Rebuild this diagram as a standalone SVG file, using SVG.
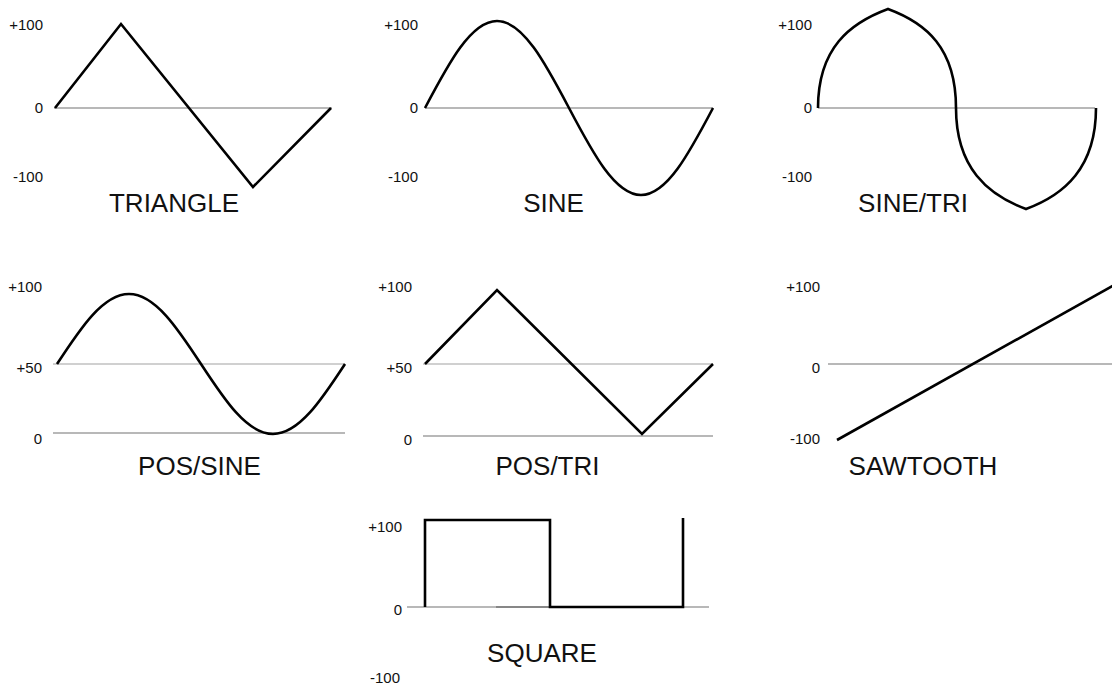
<svg xmlns="http://www.w3.org/2000/svg" width="1112" height="684" viewBox="0 0 1112 684">
<style>
.lbl{font-family:"Liberation Sans",Arial,sans-serif;font-size:15px;fill:#111;text-anchor:end}
.ttl{font-family:"Liberation Sans",Arial,sans-serif;font-size:26px;fill:#111;text-anchor:middle}
.ax{stroke:#a0a0a0;stroke-width:1.5;fill:none}
.ax2{stroke:#c0c0c0;stroke-width:1.5;fill:none}
.w{stroke:#000;stroke-width:2.6;fill:none;stroke-linejoin:miter}
</style>
<rect width="1112" height="684" fill="#fff"/>
<g id="triangle">
<line class="ax" x1="54" y1="108" x2="332" y2="108"/>
<path class="w" d="M55,108 L121,24 L253,187 L331,108"/>
<text class="lbl" x="43" y="30">+100</text>
<text class="lbl" x="43" y="113">0</text>
<text class="lbl" x="43" y="182">-100</text>
<text class="ttl" x="174" y="212">TRIANGLE</text>
</g>
<g id="sine">
<line class="ax" x1="425" y1="108" x2="713" y2="108"/>
<path class="w" d="M425,108 C448.5,63.4 471,21 497,21 C523,21 545.5,63.4 569,108 C592.5,152.6 615,195 641,195 C667,195 689.5,152.6 713,108"/>
<text class="lbl" x="418" y="30">+100</text>
<text class="lbl" x="418" y="113">0</text>
<text class="lbl" x="418" y="182">-100</text>
<text class="ttl" x="553.5" y="212">SINE</text>
</g>
<g id="sine-tri">
<line class="ax" x1="818" y1="108" x2="1095" y2="108"/>
<path class="w" d="M818,108 C818,48 850,23 888,9 C926,23 956,48 956,108 C956,168 988,195 1026,209 C1064,195 1096,168 1096,108"/>
<text class="lbl" x="812" y="30">+100</text>
<text class="lbl" x="812" y="113">0</text>
<text class="lbl" x="812" y="182">-100</text>
<text class="ttl" x="913" y="212">SINE/TRI</text>
</g>
<g id="pos-sine">
<line class="ax2" x1="53" y1="364" x2="345" y2="364"/>
<line class="ax" x1="53" y1="433" x2="345" y2="433"/>
<path class="w" d="M57,364 C80.5,328.1 103,294 129,294 C155,294 177.5,328.1 201,364 C224.5,399.9 247,434 273,434 C299,434 321.5,399.9 345,364"/>
<text class="lbl" x="42" y="292">+100</text>
<text class="lbl" x="42" y="373">+50</text>
<text class="lbl" x="42" y="444">0</text>
<text class="ttl" x="199.5" y="475">POS/SINE</text>
</g>
<g id="pos-tri">
<line class="ax2" x1="423" y1="364" x2="713" y2="364"/>
<line class="ax" x1="423" y1="436" x2="713" y2="436"/>
<path class="w" d="M425,364 L497,290 L642,434 L713,364"/>
<text class="lbl" x="412" y="292">+100</text>
<text class="lbl" x="412" y="373">+50</text>
<text class="lbl" x="412" y="445">0</text>
<text class="ttl" x="547.5" y="475">POS/TRI</text>
</g>
<g id="sawtooth">
<line class="ax" x1="828" y1="364" x2="1112" y2="364"/>
<path class="w" d="M837,440 L1116,284"/>
<text class="lbl" x="820" y="292">+100</text>
<text class="lbl" x="820" y="373">0</text>
<text class="lbl" x="820" y="444">-100</text>
<text class="ttl" x="923" y="475">SAWTOOTH</text>
</g>
<g id="square">
<line class="ax" x1="407" y1="607" x2="709" y2="607"/>
<line x1="496" y1="607" x2="550" y2="607" stroke="#777" stroke-width="1.5"/>
<path class="w" d="M425,607 V520 H550 V607 H683 V518" stroke-width="3"/>
<text class="lbl" x="402" y="532">+100</text>
<text class="lbl" x="402" y="615">0</text>
<text class="lbl" x="400" y="683">-100</text>
<text class="ttl" x="542" y="662">SQUARE</text>
</g>
<g id="connectors"></g>
</svg>
